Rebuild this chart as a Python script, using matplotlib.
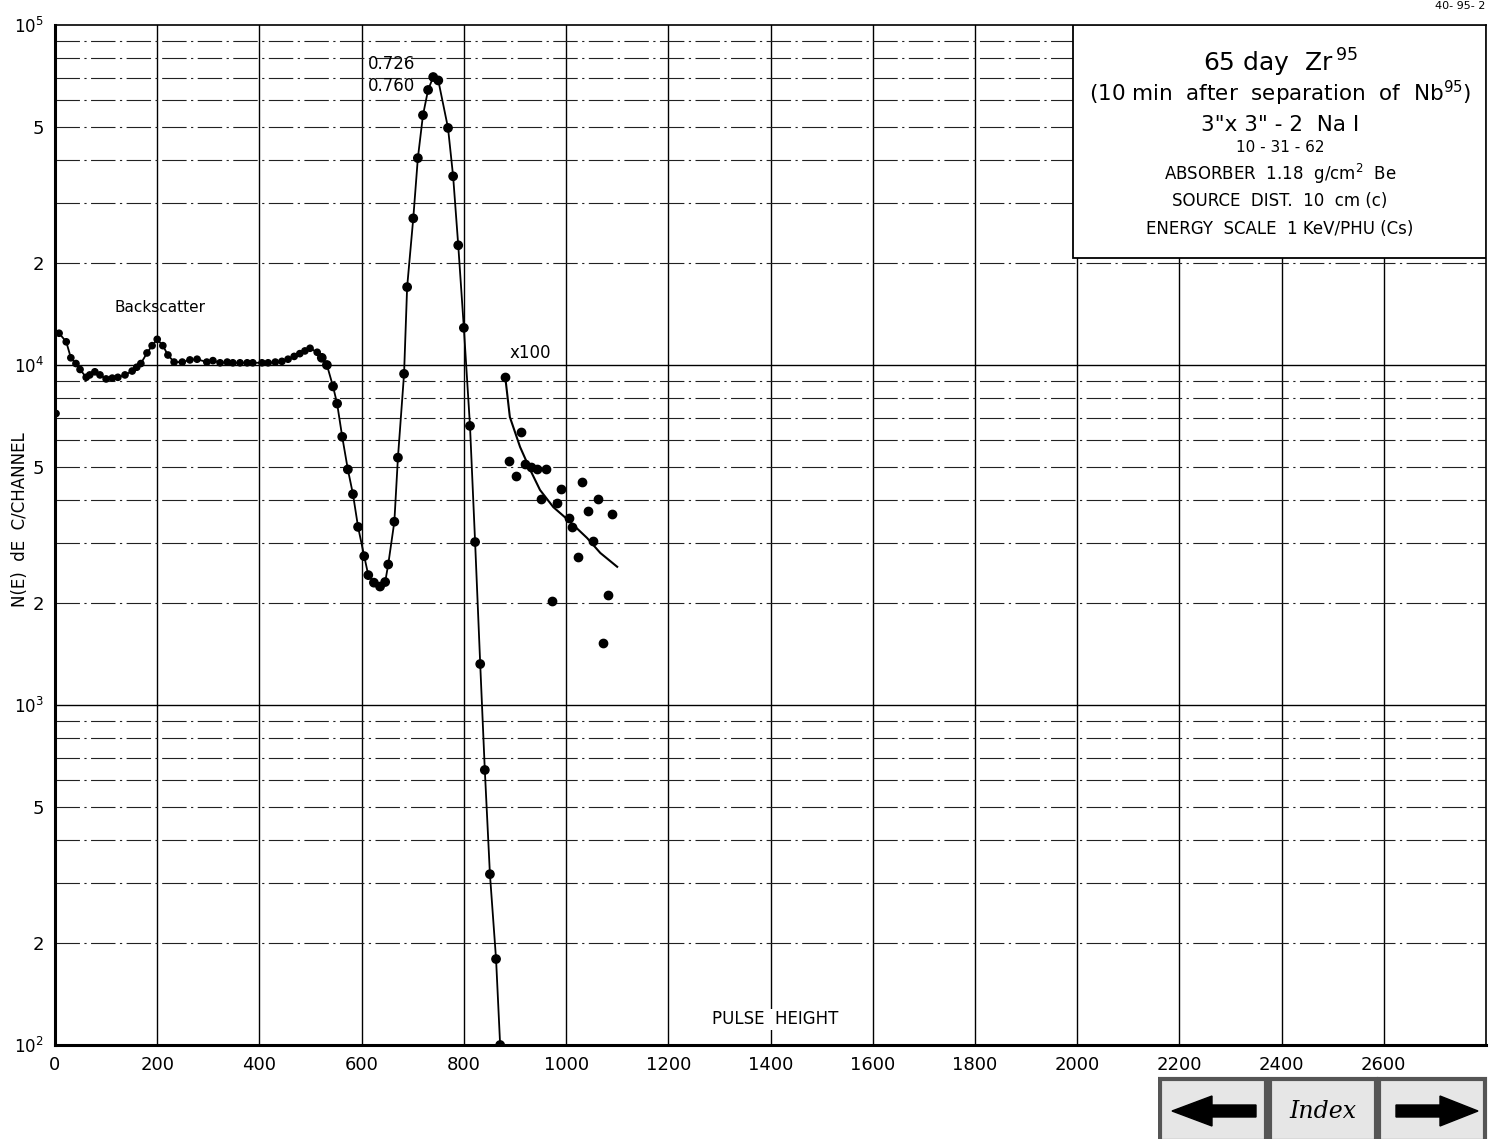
import matplotlib
matplotlib.use("Agg")
import matplotlib.pyplot as plt
from matplotlib.patches import Rectangle, Polygon
from matplotlib.ticker import FixedLocator, FixedFormatter
import numpy as np

# ---------------- data ----------------
main_x = [2, 8, 22, 31, 41, 49, 61, 68, 78, 88, 100, 112, 123, 137, 151, 160, 168, 180,
          190, 200, 211, 221, 233, 249, 264, 278, 297, 309, 323, 337, 348, 362, 376, 387,
          405, 417, 431, 444, 456, 468, 479, 489, 499, 513, 522, 532, 544, 552, 562, 573,
          583, 593, 605, 613, 624, 636, 646, 652, 664, 671, 683, 689, 701, 710, 720, 730,
          740, 750, 769, 779, 789, 800, 812, 822, 832, 841, 851, 863, 871]
main_y = [7200, 12400, 11700, 10500, 10100, 9700, 9200, 9350, 9550, 9350, 9100, 9150, 9200,
          9350, 9600, 9850, 10100, 10850, 11400, 11900, 11400, 10700, 10200, 10200, 10350,
          10400, 10200, 10300, 10150, 10200, 10150, 10150, 10150, 10150, 10150, 10150, 10200,
          10250, 10400, 10600, 10800, 11000, 11200, 10900, 10500, 10000, 8650, 7700, 6150,
          4930, 4170, 3340, 2740, 2410, 2290, 2230, 2300, 2590, 3460, 5340, 9420, 16950,
          27000, 40600, 54300, 64400, 70300, 68700, 49800, 35900, 22500, 12860, 6620, 3015,
          1320, 644, 318, 179, 100]

x100_x = [881, 889, 902, 912, 920, 931, 943, 951, 961, 972, 982, 990, 1006, 1012, 1023,
          1031, 1043, 1053, 1063, 1073, 1082, 1090]
x100_y = [9220, 5230, 4720, 6360, 5110, 5000, 4950, 4040, 4950, 2020, 3930, 4310, 3550,
          3340, 2720, 4530, 3720, 3030, 4040, 1520, 2110, 3650]

x100_fit_x = [881, 890, 910, 930, 949, 975, 1004, 1041, 1067, 1100]
x100_fit_y = [9220, 7030, 5740, 4910, 4290, 3820, 3500, 3100, 2800, 2550]

x_ticks = [0, 200, 400, 600, 800, 1000, 1200, 1400, 1600, 1800, 2000, 2200, 2400, 2600]
x_tick_labels = ["0", "200", "400", "600", "800", "1000", "1200", "1400", "1600", "1800",
                 "2000", "2200", "2400", "2600"]
y_major = [1e2, 1e3, 1e4, 1e5]
y_major_labels = [r"$10^2$", r"$10^3$", r"$10^4$", r"$10^5$"]
y_minor_labelled = [200, 500, 2000, 5000, 20000, 50000]
y_minor_labels = ["2", "5", "2", "5", "2", "5"]

info_lines = [
    (r"65 day  Zr$^{\,95}$", 18),
    (r"(10 min  after  separation  of  Nb$^{95}$)", 15.5),
    ("3\"x 3\" - 2  Na I", 15.5),
    ("10 - 31 - 62", 11),
    (r"ABSORBER  1.18  g/cm$^{2}$  Be", 12),
    ("SOURCE  DIST.  10  cm (c)", 12),
    ("ENERGY  SCALE  1 KeV/PHU (Cs)", 12),
]
info_y_px = [63, 93, 125, 147, 174, 201, 229]

# ---------------- figure ----------------
W, H = 1494, 1139
fig = plt.figure(figsize=(W / 100, H / 100), dpi=100)
fig.patch.set_facecolor("white")

L, R, T, B = 55, 1486, 25, 1045
ax = fig.add_axes([L / W, 1 - B / H, (R - L) / W, (B - T) / H])
ax.set_yscale("log")
ax.set_xlim(0, 2800)
ax.set_ylim(100, 1e5)

# grid lines
for xv in range(200, 2800, 200):
    ax.axvline(xv, color="black", lw=1.0, zorder=1)
minor_vals = [m * 10 ** d for d in range(2, 5) for m in range(2, 10)]
for yv in minor_vals:
    ax.axhline(yv, color="#222222", lw=0.8, ls=(0, (22, 4, 2, 4)), zorder=1)
for yv in [1e3, 1e4]:
    ax.axhline(yv, color="black", lw=1.0, zorder=1)

# information box
ax.add_patch(Rectangle((0.7114, 0.7716), 1 - 0.7114, 1 - 0.7716, transform=ax.transAxes,
                       facecolor="white", edgecolor="black", lw=1.3, zorder=3))
for (txt, fs), ypx in zip(info_lines, info_y_px):
    fig.text(1280 / W, 1 - ypx / H, txt, ha="center", va="center", fontsize=fs, zorder=5)

# data
ax.plot(main_x[1:], main_y[1:], color="black", lw=1.3, zorder=4)
sizes = [4.5 if xv < 520 else 6 for xv in main_x]
ax.scatter(main_x, main_y, s=[sv ** 2 for sv in sizes], color="black", zorder=4)
ax.plot(x100_fit_x, x100_fit_y, color="black", lw=1.5, zorder=4)
ax.plot(x100_x, x100_y, "o", color="black", ms=6, zorder=4)

# annotations
ax.text(612, 76800, "0.726", fontsize=12, ha="left", va="center", zorder=5)
ax.text(612, 66200, "0.760", fontsize=12, ha="left", va="center", zorder=5)
ax.text(205, 14800, "Backscatter", fontsize=11, ha="center", va="center", zorder=5)
ax.text(890, 10830, "x100", fontsize=12, ha="left", va="center", zorder=5)
ax.text(1409, 119, "PULSE  HEIGHT", fontsize=12, ha="center", va="center", zorder=5,
        bbox=dict(facecolor="white", edgecolor="none", pad=1))

# ticks
ax.xaxis.set_major_locator(FixedLocator(x_ticks))
ax.xaxis.set_major_formatter(FixedFormatter(x_tick_labels))
ax.xaxis.set_minor_locator(FixedLocator([]))
ax.yaxis.set_major_locator(FixedLocator(y_major))
ax.yaxis.set_major_formatter(FixedFormatter(y_major_labels))
ax.yaxis.set_minor_locator(FixedLocator(y_minor_labelled))
ax.yaxis.set_minor_formatter(FixedFormatter(y_minor_labels))
ax.tick_params(axis="both", which="both", length=0, labelsize=13, pad=8)
ax.tick_params(axis="y", which="major", labelsize=12, pad=8)

for s in ["left", "bottom"]:
    ax.spines[s].set_linewidth(2.2)
for s in ["top", "right"]:
    ax.spines[s].set_linewidth(1.2)

fig.text(20 / W, 1 - 520 / H, "N(E)  dE  C/CHANNEL", rotation=90, ha="center", va="center",
         fontsize=12)
fig.text(1460 / W, 1 - 6 / H, "40- 95- 2", ha="center", va="center", fontsize=8)

# navigation buttons
bx = fig.add_axes([1158 / W, 0, (W - 1158) / W, (H - 1076) / H])
bx.set_xlim(1158, W)
bx.set_ylim(H, 1076)
bx.axis("off")
for x0 in [1160, 1270, 1379]:
    bx.add_patch(Rectangle((x0, 1079), 106, 62, facecolor="#e6e6e6", edgecolor="#555555",
                           lw=3))
bx.add_patch(Polygon([(1172, 1111), (1212, 1096), (1212, 1105), (1256, 1105), (1256, 1117),
                      (1212, 1117), (1212, 1126)], closed=True, color="black"))
bx.add_patch(Polygon([(1478, 1111), (1440, 1096), (1440, 1105), (1396, 1105), (1396, 1117),
                      (1440, 1117), (1440, 1126)], closed=True, color="black"))
bx.text(1323, 1111, "Index", ha="center", va="center", fontsize=17, style="italic",
        family="DejaVu Serif")

fig.savefig("out.png", dpi=100, facecolor="white")
